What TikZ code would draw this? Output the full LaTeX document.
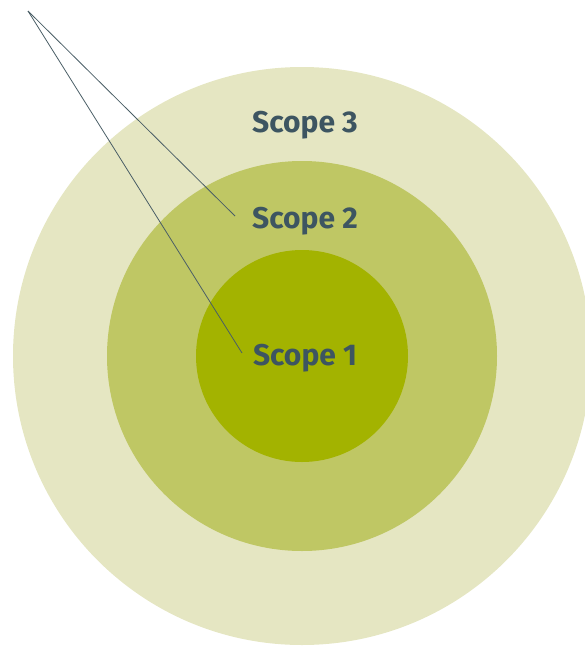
\documentclass[tikz,border=0pt]{standalone}
\usepackage{fontspec}
\setmainfont{Fira Sans}
\definecolor{outerc}{HTML}{E5E6C2}
\definecolor{midc}{HTML}{BFC764}
\definecolor{innerc}{HTML}{A3B300}
\definecolor{textc}{HTML}{3D5561}
\definecolor{linec}{HTML}{4A5E66}
\begin{document}
\begin{tikzpicture}[x=1pt,y=-1pt,
  lbl/.style={text=textc,font=\fontsize{30}{33}\selectfont\bfseries,inner sep=0pt},
  leader/.style={draw=linec,line width=0.8pt}]
\useasboundingbox (0,0) rectangle (585,646);
\clip (0,0) rectangle (585,646);
\fill[outerc] (302,356) circle (289);
\fill[midc] (302,356) circle (195);
\fill[innerc] (302,356) circle (106);
\node[lbl] (s3) at (305,125) {Scope 3};
\node[lbl] (s2) at (305,221) {Scope 2};
\node[lbl] (s1) at (305,358) {Scope 1};
\coordinate (o) at (28,11);
\coordinate (e2) at (235,216);
\coordinate (e1) at (242,353);
\draw[leader] (o) -- (e2);
\draw[leader] (o) -- (e1);
\end{tikzpicture}
\end{document}
